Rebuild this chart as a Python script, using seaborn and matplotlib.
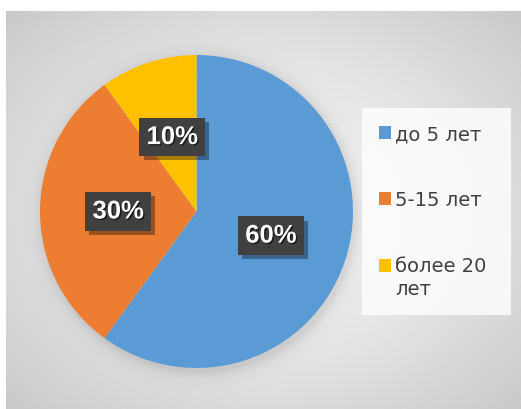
import numpy as np
import matplotlib
matplotlib.use("Agg")
import matplotlib.pyplot as plt
import matplotlib.patheffects as pe
from matplotlib.patches import Patch, Rectangle
from matplotlib.legend_handler import HandlerPatch
import seaborn as sns

categories = ["до 5 лет", "5-15 лет", "более 20\nлет"]
values = [60, 30, 10]
colors_hex = ["#5B9BD5", "#ED7D31", "#FFC000"]

sns.set_style("white")
plt.rcParams['font.family'] = ['Liberation Sans', 'DejaVu Sans']
palette = sns.color_palette(colors_hex)

W, H = 521, 410
fig = plt.figure(figsize=(W / 100, H / 100), dpi=100, facecolor='white')

# background with radial gradient and soft pie shadow
bx0, by0 = 6, 12
bw, bh = W - bx0, H - by0
bg_ax = fig.add_axes([bx0 / W, 0, bw / W, bh / H])
yy, xx = np.mgrid[0:bh, 0:bw]
cx, cy = bw / 2, bh / 2
r = np.hypot((xx - cx) / (bw / 2), (yy - cy) / (bh / 2)) / np.sqrt(2)
val = 0.975 - 0.19 * r ** 1.3
R = 156.5
pcx, pcy = 196.5, 212.5
d = np.hypot(xx - (pcx - bx0 + 2), yy - (pcy - by0 + 3))
val -= 0.10 * np.exp(-np.clip(d - R, 0, None) / 7.0)
bg_ax.imshow(val, cmap='gray', vmin=0, vmax=1, aspect='auto', interpolation='bilinear')
bg_ax.axis('off')

# pie
ax = fig.add_axes([(pcx - R) / W, (H - pcy - R) / H, 2 * R / W, 2 * R / H])
wedges, texts, autotexts = ax.pie(
    values, colors=palette, startangle=90, counterclock=False,
    autopct='%1.0f%%', pctdistance=0.5, radius=1,
    wedgeprops=dict(linewidth=0),
    textprops=dict(color='white', fontsize=18.5, fontweight='bold'))
ax.set_xlim(-1, 1)
ax.set_ylim(-1, 1)
ax.set_aspect('equal')
ax.axis('off')
for t in autotexts:
    t.set_bbox(dict(boxstyle='square,pad=0.28', facecolor='#404040', edgecolor='none'))
    t.get_bbox_patch().set_path_effects([
        pe.SimplePatchShadow(offset=(3, -3), shadow_rgbFace='black', alpha=0.35), pe.Normal()])
    t.set_path_effects([pe.SimplePatchShadow(offset=(1, -1), shadow_rgbFace='black', alpha=0.6), pe.Normal()])


class ShiftHandler(HandlerPatch):
    def __init__(self, shift=0.0, **kw):
        super().__init__(**kw)
        self.shift = shift

    def create_artists(self, legend, orig_handle, xdescent, ydescent, width, height, fontsize, trans):
        p = Rectangle((-xdescent, -ydescent + self.shift * fontsize), width, height,
                      facecolor=orig_handle.get_facecolor(), edgecolor='none', transform=trans)
        return [p]


handles = [Patch(facecolor=c, edgecolor='none') for c in palette]
hmap = {handles[0]: ShiftHandler(0), handles[1]: ShiftHandler(0), handles[2]: ShiftHandler(0.65)}
leg = fig.legend(handles, categories, loc='upper left',
                 bbox_to_anchor=(362 / W, 0, 149 / W, 1 - 109 / H), bbox_transform=fig.transFigure,
                 mode='expand', frameon=True, fontsize=14, labelcolor='#404040',
                 prop={'family': ['DejaVu Sans'], 'size': 14},
                 handlelength=0.65, handleheight=0.65, handletextpad=0.2,
                 labelspacing=2.4, borderpad=0.85, borderaxespad=0, fancybox=False,
                 handler_map=hmap)
leg.get_frame().set_facecolor((1, 1, 1, 0.55))
leg.get_frame().set_edgecolor('none')
for t in leg.get_texts():
    t.set_linespacing(1.3)

fig.savefig('out.png', dpi=100, facecolor='white')
